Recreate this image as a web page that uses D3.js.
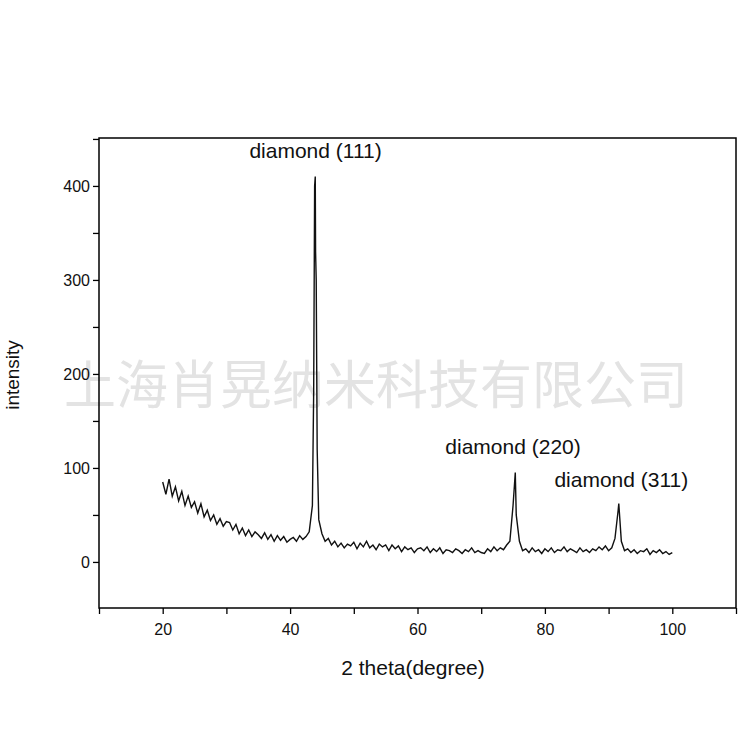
<!DOCTYPE html>
<html><head><meta charset="utf-8">
<script src="https://cdn.jsdelivr.net/npm/d3@7"></script>
<style>body{margin:0;background:#fff}</style></head>
<body><svg id="c" width="750" height="750"></svg>
<script>
const gridStart = 20, gridStep = 0.5;
const gridIntensity = [
85,72,88,70,80,65,75,60,70,58,64,
52,62,48,55,44,50,40,46,38,43,
42,34,40,30,36,28,34,27,32,29,
25,31,24,29,22,28,23,27,21,24,
26,22,28,24,27,32,
60,330,45,30,22,
25,18,22,16,20,15,19,17,21,
14,20,16,22,15,18,13,19,16,18,
12,18,14,17,11,16,13,15,10,14,
15,12,16,10,14,11,15,9,13,12,
10,14,12,9,13,11,15,10,12,10,
9,14,11,16,12,15,13,18,22,
60,50,22,12,
14,10,15,11,13,9,14,
11,15,10,13,12,16,11,14,12,10,
15,11,13,10,14,12,16,13,17,12,
15,25,55,22,12,
14,10,13,9,12,11,14,8,12,10,13,9,11,8,10
];
const peakTheta = [43.7,43.85,43.95,44.1,44.25,75.2,75.35,91.6];
const peakIntensity = [180,400,410,300,120,80,95,62];
const xTicks = [20,40,60,80,100];
const yTicks = [0,100,200,300,400];
const labels = [{t:"diamond (111)",x:44,y:430},{t:"diamond (220)",x:75,y:115},{t:"diamond (311)",x:92,y:80}];

let pts = gridIntensity.map((v,i)=>[gridStart+i*gridStep, v]);
pts = pts.concat(peakTheta.map((t,i)=>[t,peakIntensity[i]])).sort((a,b)=>a[0]-b[0]);

const svg = d3.select("#c");
const L=99,R=736,T=138,B=608;
const x = d3.scaleLinear().domain([10,110]).range([L,R]);
const y = d3.scaleLinear().domain([-49,451]).range([B,T]);
const font = "'Liberation Sans', Arial, sans-serif";

svg.append("text").attr("x",376).attr("y",404).attr("text-anchor","middle")
  .attr("font-family","'Noto Sans CJK SC'").attr("font-size",52).attr("fill","#e3e3e3")
  .text("上海肖晃纳米科技有限公司");

svg.append("rect").attr("x",L).attr("y",T).attr("width",R-L).attr("height",B-T)
  .attr("fill","none").attr("stroke","#000").attr("stroke-width",1.5);

const gx = svg.append("g").attr("transform",`translate(0,${B})`)
  .call(d3.axisBottom(x).tickValues(d3.range(10,111,10)).tickSize(6).tickFormat(d=>xTicks.includes(d)?d:""));
const gy = svg.append("g").attr("transform",`translate(${L},0)`)
  .call(d3.axisLeft(y).tickValues(d3.range(0,451,50)).tickSize(6).tickFormat(d=>yTicks.includes(d)?d:""));
[gx,gy].forEach(g=>{g.select(".domain").remove();
  g.selectAll("line").attr("stroke","#000").attr("stroke-width",1.3);
  g.selectAll("text").attr("font-family",font).attr("font-size",16).attr("fill","#111");});
gx.selectAll("text").attr("dy","1.1em");

svg.append("path").datum(pts).attr("fill","none").attr("stroke","#111").attr("stroke-width",1.4)
  .attr("d",d3.line().x(d=>x(d[0])).y(d=>y(d[1])));

labels.forEach(l=>svg.append("text").attr("x",x(l.x)).attr("y",y(l.y)).attr("text-anchor","middle")
  .attr("font-family",font).attr("font-size",21).attr("fill","#111").text(l.t));

svg.append("text").attr("x",413).attr("y",675).attr("text-anchor","middle")
  .attr("font-family",font).attr("font-size",21).attr("fill","#111").text("2 theta(degree)");
svg.append("text").attr("transform","translate(19,375) rotate(-90)").attr("text-anchor","middle")
  .attr("font-family",font).attr("font-size",19).attr("fill","#111").text("intensity");
</script></body></html>
